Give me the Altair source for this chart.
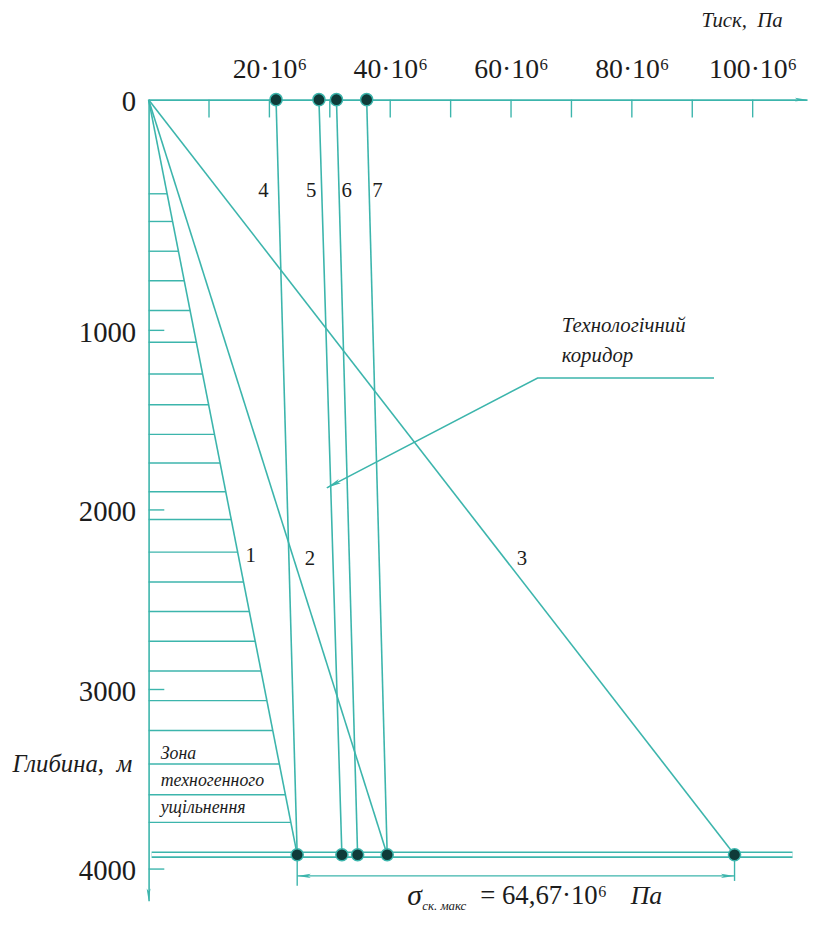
import altair as alt
import pandas as pd

TEAL = "#3cb5ac"
DOT = "#0f3b39"
INK = "#1c1c1c"
SERIF = "Liberation Serif"
NB = "\u00a0"

# ---------------- data (pressure in 10^6 Pa, depth in m) ----------------
x_label_values = [20, 40, 60, 80, 100]
x_tick_values = [10, 20, 30, 40, 50, 60, 70, 80, 90, 100]
depth_label_values = [0, 1000, 2000, 3000, 4000]
depth_tick_values = [1000, 2000, 3000, 4000]

bottom_depth = 3920
line_names = ["1", "2", "3", "4", "5", "6", "7"]
line_p_top = [0, 0, 0, 21.1, 28.2, 31.1, 36.1]
line_d_top = [0, 0, 0, 0, 0, 0, 0]
line_p_bot = [24.6, 39.5, 97.0, 24.6, 32.0, 34.6, 39.5]
line_d_bot = [bottom_depth] * 7

label_p = [16.9, 26.7, 61.8, 19.0, 26.9, 32.8, 37.9]
label_d = [2257, 2274, 2274, 395, 395, 395, 395]

top_dots_p = [21.1, 28.2, 31.1, 36.1]
bottom_dots_p = [24.6, 32.0, 34.6, 39.5, 97.0]

hatch_d = [408, 528, 657, 785, 914, 1066, 1243, 1414, 1579, 1739, 1899, 2053,
           2235, 2401, 2566, 2731, 2897, 3062, 3228, 3415, 3586, 3740]
hatch_p_end = [3.07, 3.97, 4.94, 5.91, 6.88, 7.91, 8.94, 9.94, 10.91, 11.85, 12.78,
               13.69, 14.75, 15.72, 16.69, 17.66, 18.63, 19.60, 20.56, 21.66, 22.67, 23.57]

zone_text = ["Зона", "техногенного", "ущільнення"]
zone_d = [3360, 3509, 3658]

corridor_text = ["Технологічний", "коридор"]
corridor_d = [983, 1143]
corridor_p = 68.4
leader_p = [93.6, 64.4, 29.5]
leader_d = [1265, 1265, 1877]

dim_d = 4038
dim_ext_bottom = [4093, 4066]
sigma_d = 4148

sigma_roman_text = ["= 64,67·10⁶"]
sigma_roman_p = [54.9]
sigma_italic_text = ["σ", "ск. макс", "Па"]
sigma_italic_p = [42.8, 45.3, 79.8]
sigma_italic_d = [sigma_d, sigma_d + 60, sigma_d]
sigma_italic_fs = [30, 13, 26]

X_MAX = 109
Y_MAX = 4176

# ---------------- scales / axes ----------------
XS = alt.Scale(domain=[0, X_MAX])
YS = alt.Scale(domain=[0, 1000, Y_MAX], range=[0, 233, 809])

x_axis = alt.Axis(
    orient="top", values=x_label_values, labelExpr="datum.value + '·10⁶'",
    ticks=False, tickSize=0, grid=False, domain=True, domainColor=TEAL, domainWidth=1.6,
    labelFont=SERIF, labelFontSize=28, labelColor=INK, labelPadding=16,
    title="Тиск," + NB + NB + "Па", titleFont=SERIF, titleFontSize=21, titleFontStyle="italic",
    titleFontWeight="normal", titleColor=INK, titleX=640, titleY=-80,
    titleAlign="right", titleBaseline="middle", labelFlush=False, labelOverlap=False,
)
y_axis = alt.Axis(
    orient="left", values=depth_label_values, format="d", ticks=False, tickSize=0, grid=False,
    domain=True, domainColor=TEAL, domainWidth=1.6,
    labelFont=SERIF, labelFontSize=29, labelColor=INK, labelPadding=13, labelOffset=2,
    title="Глибина," + NB + NB + "м", titleFont=SERIF, titleFontSize=25, titleFontStyle="italic",
    titleFontWeight="normal", titleColor=INK, titleAngle=0, titleX=-138, titleY=671,
    titleAlign="left", titleBaseline="middle", labelFlush=False, labelOverlap=False,
)


def X(field):
    return alt.X(field, type="quantitative", scale=XS, axis=x_axis)


def Y(field):
    return alt.Y(field, type="quantitative", scale=YS, axis=y_axis)


# ---------------- tables ----------------
lines_df = pd.DataFrame({"name": line_names, "p1": line_p_top, "d1": line_d_top,
                         "p2": line_p_bot, "d2": line_d_bot})
labels_df = pd.DataFrame({"name": line_names, "p": label_p, "d": label_d})
hatch_df = pd.DataFrame({"p1": [0] * len(hatch_d), "p2": hatch_p_end, "d": hatch_d})
xt_df = pd.DataFrame({"p": x_tick_values, "d1": [0] * len(x_tick_values), "d2": [77] * len(x_tick_values)})
yt_df = pd.DataFrame({"d": depth_tick_values, "p1": [0] * 4, "p2": [2.6] * 4})
dots_df = pd.DataFrame({"p": top_dots_p + bottom_dots_p,
                        "d": [0] * len(top_dots_p) + [bottom_depth] * len(bottom_dots_p)})
base_df = pd.DataFrame({"p1": [0.5], "p2": [106.6], "d": [bottom_depth]})
zone_df = pd.DataFrame({"t": zone_text, "p": [2.0] * 3, "d": zone_d})
corr_df = pd.DataFrame({"t": corridor_text, "p": [corridor_p] * 2, "d": corridor_d})
leader_df = pd.DataFrame({"p": leader_p, "d": leader_d, "o": [0, 1, 2]})
ext_df = pd.DataFrame({"p": [bottom_dots_p[0], bottom_dots_p[-1]], "d1": [bottom_depth] * 2,
                       "d2": dim_ext_bottom})
dim_df = pd.DataFrame({"p1": [bottom_dots_p[0]], "p2": [bottom_dots_p[-1]], "d": [dim_d]})

ARROW = "M0,0 L0.32,2 L0,1.55 L-0.32,2 Z"
arrows_df = pd.DataFrame({
    "p": [leader_p[2], bottom_dots_p[0], bottom_dots_p[-1], X_MAX, 0],
    "d": [leader_d[2], dim_d, dim_d, 0, Y_MAX],
    "ang": [242.5, 270, 90, 90, 180],
    "sz": [220, 190, 190, 150, 150],
})

sig_rom_df = pd.DataFrame({"t": sigma_roman_text, "p": sigma_roman_p, "d": [sigma_d]})
sig_it_df = pd.DataFrame({"t": sigma_italic_text, "p": sigma_italic_p, "d": sigma_italic_d,
                          "fs": sigma_italic_fs})

# ---------------- layers ----------------
hatch = alt.Chart(hatch_df).mark_rule(color=TEAL, strokeWidth=1.4).encode(
    x=X("p1"), x2="p2", y=Y("d"))
xticks = alt.Chart(xt_df).mark_rule(color=TEAL, strokeWidth=1.4).encode(
    x=X("p"), y=Y("d1"), y2="d2")
yticks = alt.Chart(yt_df).mark_rule(color=TEAL, strokeWidth=1.4).encode(
    x=X("p1"), x2="p2", y=Y("d"))
base_outer = alt.Chart(base_df).mark_rule(color=TEAL, strokeWidth=6.5).encode(
    x=X("p1"), x2="p2", y=Y("d"))
base_inner = alt.Chart(base_df).mark_rule(color="white", strokeWidth=3.2).encode(
    x=X("p1"), x2="p2", y=Y("d"))
lines = alt.Chart(lines_df).mark_rule(color=TEAL, strokeWidth=1.6).encode(
    x=X("p1"), x2="p2", y=Y("d1"), y2="d2")
ext = alt.Chart(ext_df).mark_rule(color=TEAL, strokeWidth=1.4).encode(
    x=X("p"), y=Y("d1"), y2="d2")
dim = alt.Chart(dim_df).mark_rule(color=TEAL, strokeWidth=1.4).encode(
    x=X("p1"), x2="p2", y=Y("d"))
leader = alt.Chart(leader_df).mark_line(color=TEAL, strokeWidth=1.6).encode(
    x=X("p"), y=Y("d"), order="o:O")
arrows = alt.Chart(arrows_df).mark_point(shape=ARROW, filled=True, color=TEAL, opacity=1).encode(
    x=X("p"), y=Y("d"), angle=alt.Angle("ang:Q", scale=None), size=alt.Size("sz:Q", scale=None))
dots = alt.Chart(dots_df).mark_point(filled=True, fill=DOT, stroke=TEAL, strokeWidth=1.5,
                                     size=150, opacity=1, shape="circle").encode(
    x=X("p"), y=Y("d"))
num_labels = alt.Chart(labels_df).mark_text(font=SERIF, fontSize=21, color=INK).encode(
    x=X("p"), y=Y("d"), text="name:N")
zone = alt.Chart(zone_df).mark_text(font=SERIF, fontSize=18, fontStyle="italic", color=INK,
                                    align="left").encode(x=X("p"), y=Y("d"), text="t:N")
corr = alt.Chart(corr_df).mark_text(font=SERIF, fontSize=21, fontStyle="italic", color=INK,
                                    align="left").encode(x=X("p"), y=Y("d"), text="t:N")
sig_rom = alt.Chart(sig_rom_df).mark_text(font=SERIF, fontSize=27, color=INK, align="left").encode(
    x=X("p"), y=Y("d"), text="t:N")
sig_it = alt.Chart(sig_it_df).mark_text(font=SERIF, fontStyle="italic", color=INK, align="left").encode(
    x=X("p"), y=Y("d"), text="t:N", size=alt.Size("fs:Q", scale=None, legend=None))

chart = alt.layer(
    hatch, xticks, yticks, lines, base_outer, base_inner, ext, dim, leader, arrows, dots,
    num_labels, zone, corr, sig_rom, sig_it,
).properties(
    width=665, height=809,
    padding={"left": 142, "top": 88, "right": 3, "bottom": 20},
    autosize=alt.AutoSizeParams(type="none"),
).configure_view(stroke=None)

chart.save("out.html", embed_options={"renderer": "svg", "actions": False})
